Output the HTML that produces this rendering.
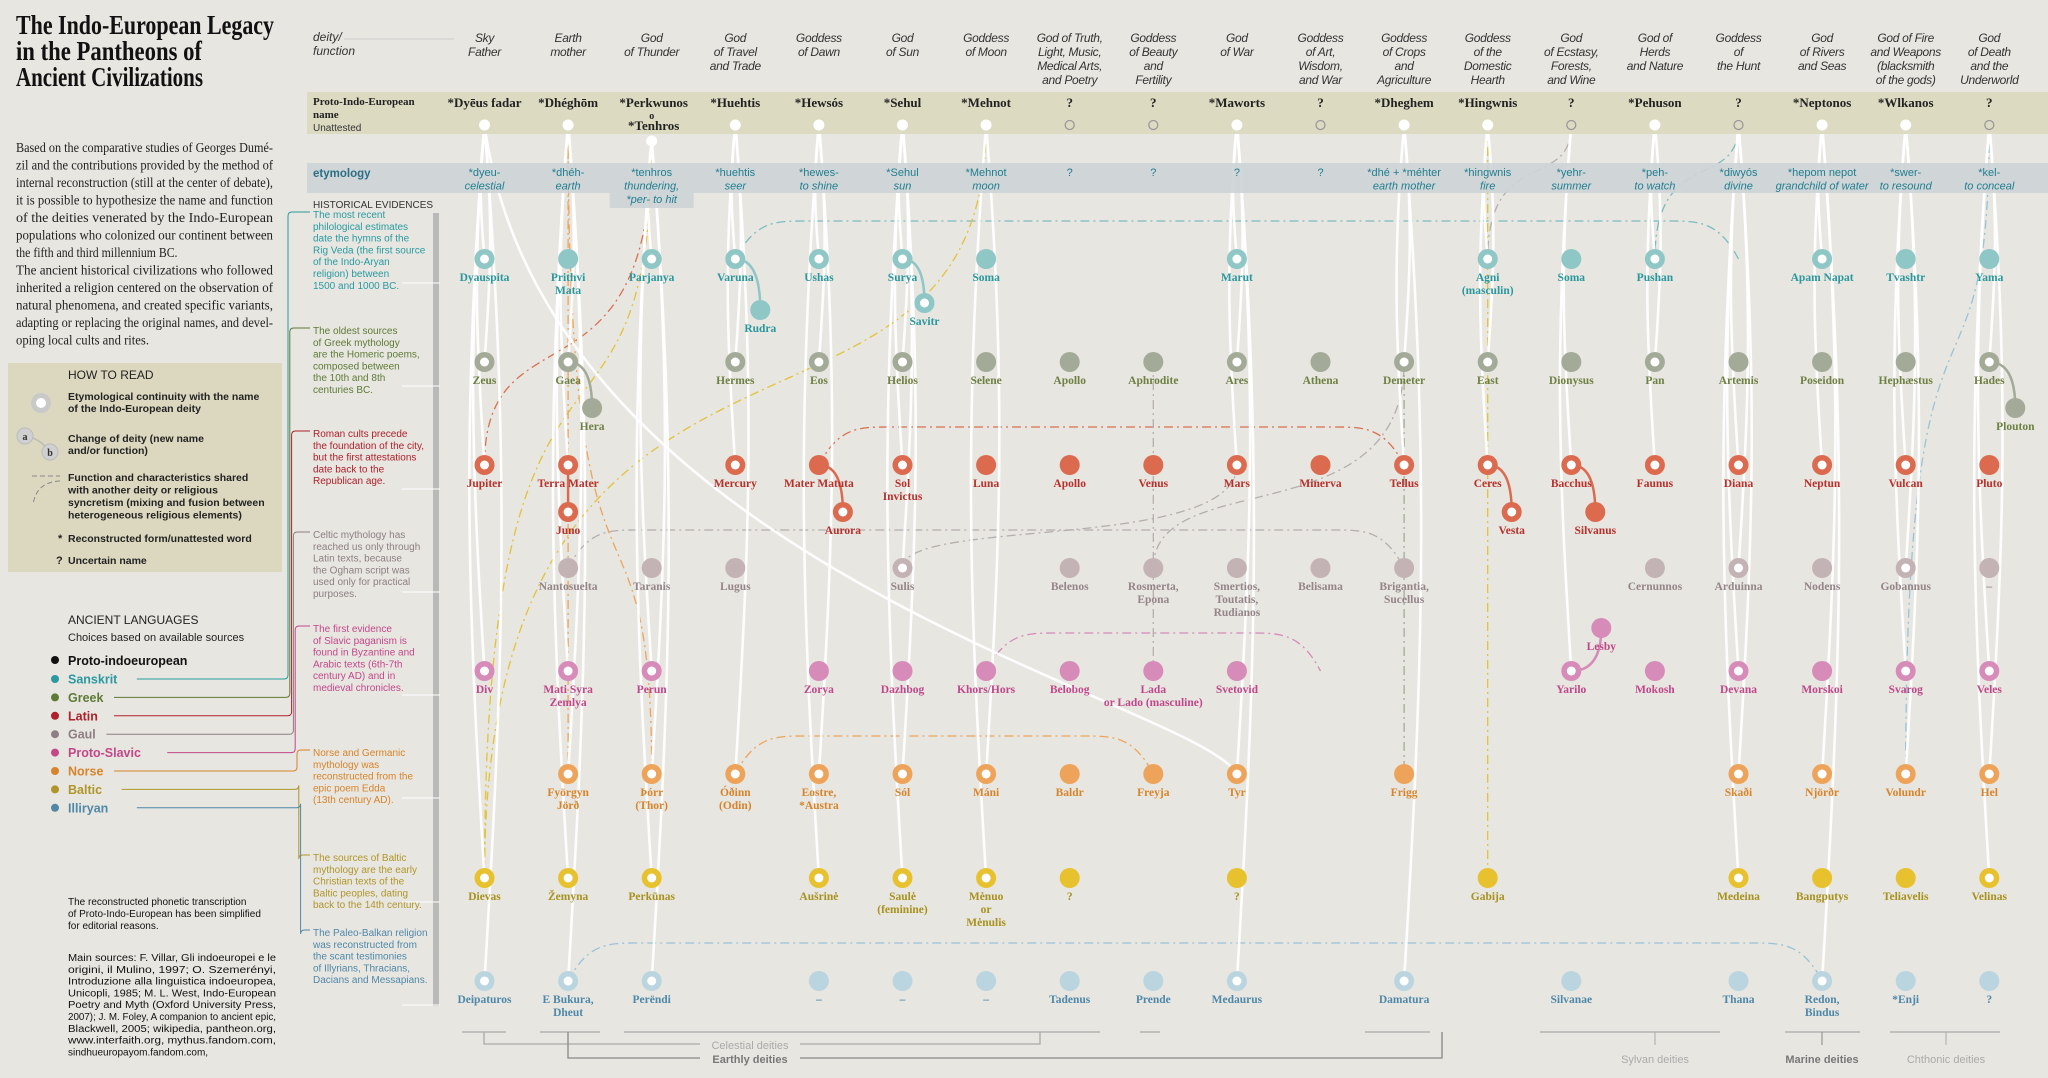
<!DOCTYPE html>
<html><head><meta charset="utf-8"><style>
html,body{margin:0;padding:0;background:#e7e6e1;}
svg{display:block;}
</style></head><body>
<svg id="chart" xmlns="http://www.w3.org/2000/svg" width="2048" height="1078" viewBox="0 0 2048 1078">
<rect x="0" y="0" width="2048" height="1078" fill="#e7e6e1"/>
</svg>
<script>
// ---------- DATA ----------
const headers = [["Sky","Father"],["Earth","mother"],["God","of Thunder"],["God","of Travel","and Trade"],["Goddess","of Dawn"],["God","of Sun"],["Goddess","of Moon"],["God of Truth,","Light, Music,","Medical Arts,","and Poetry"],["Goddess","of Beauty","and","Fertility"],["God","of War"],["Goddess","of Art,","Wisdom,","and War"],["Goddess","of Crops","and","Agriculture"],["Goddess","of the","Domestic","Hearth"],["God","of Ecstasy,","Forests,","and Wine"],["God of","Herds","and Nature"],["Goddess","of","the Hunt"],["God","of Rivers","and Seas"],["God of Fire","and Weapons","(blacksmith","of the gods)"],["God","of Death","and the","Underworld"]];
const pieNames = ["*Dyēus fadar","*Dhéghōm","*Perkwunos","*Huehtis","*Hewsós","*Sehul","*Mehnot","?","?","*Maworts","?","*Dheghem","*Hingwnis","?","*Pehuson","?","*Neptonos","*Wlkanos","?"];
const etymology = [["*dyeu-","celestial"],["*dhéh-","earth"],["*tenhros","thundering,","*per- to hit"],["*huehtis","seer"],["*hewes-","to shine"],["*Sehul","sun"],["*Mehnot","moon"],["?"],["?"],["?"],["?"],["*dhé + *méhter","earth mother"],["*hingwnis","fire"],["*yehr-","summer"],["*peh-","to watch"],["*diwyós","divine"],["*hepom nepot","grandchild of water"],["*swer-","to resound"],["*kel-","to conceal"]];
const sanskrit = ["Dyauspita","Prithvi|Mata","Parjanya","Varuna","Ushas","Surya","Soma","","","Marut","","","Agni|(masculin)","Soma","Pushan","","Apam Napat","Tvashtr","Yama"];
const greek = ["Zeus","Gaea","","Hermes","Eos","Helios","Selene","Apollo","Aphrodite","Ares","Athena","Demeter","East","Dionysus","Pan","Artemis","Poseidon","Hephæstus","Hades"];
const latin = ["Jupiter","Terra Mater","","Mercury","Mater Matuta","Sol|Invictus","Luna","Apollo","Venus","Mars","Minerva","Tellus","Ceres","Bacchus","Faunus","Diana","Neptun","Vulcan","Pluto"];
const gaul = ["","Nantosuelta","Taranis","Lugus","","Sulis","","Belenos","Rosmerta,|Epona","Smertios,|Toutatis,|Rudianos","Belisama","Brigantia,|Sucellus","","","Cernunnos","Arduinna","Nodens","Gobannus","–"];
const slavic = ["Div","Mati Syra|Zemlya","Perun","","Zorya","Dazhbog","Khors/Hors","Belobog","Lada|or Lado (masculine)","Svetovid","","","","Yarilo","Mokosh","Devana","Morskoi","Svarog","Veles"];
const norse = ["","Fyörgyn|Jörð","Þórr|(Thor)","Óðinn|(Odin)","Eostre,|*Austra","Sól","Máni","Baldr","Freyja","Tyr","","Frigg","","","","Skaði","Njörðr","Volundr","Hel"];
const baltic = ["Dievas","Žemyna","Perkūnas","","Aušrinė","Saulė|(feminine)","Mėnuo|or|Mėnulis","?","","?","","","Gabija","","","Medeina","Bangputys","Teliavelis","Velinas"];
const illyrian = ["Deipaturos","E Bukura,|Dheut","Perëndi","","–","–","–","Tadenus","Prende","Medaurus","","Damatura","","Silvanae","","Thana","Redon,|Bindus","*Enji","?"];
const rings = [[0,2,3,4,5,9,12,14,16],[0,1,3,4,5,9,11,12,14,18],[0,1,3,5,9,11,12,13,14,15,16,17],[5,15,17],[0,1,2,13,15,17,18],[1,2,3,4,5,6,9,15,16,17,18],[0,1,2,4,5,6,15,18],[0,1,2,9,11,16]];
const langNames = ["Sanskrit","Greek","Latin","Gaul","Proto-Slavic","Norse","Baltic","Illiryan"];
const extraNames = ["Rudra","Savitr","Hera","Juno","Aurora","Vesta","Silvanus","Plouton","Lesby"];
const extraRow = [0,0,1,2,2,2,2,1,4];
const extraParent = [3,5,1,1,4,12,13,18,13];
const extraRing = [0,1,0,1,1,1,0,0,0];
const dashedLinks = [[2,0,-1,2,2],[-1,2,6,0,6],[-1,1,5,1,5],[3,5,2,9,3],[3,8,1,11,3],[4,6,4,10,4],[0,3,0,15,0],[5,3,5,8,5],[3,1,3,11,3],[2,4,2,11,2],[7,1,7,16,7],[6,12,-1,12,6],[1,11,5,11,1],[-1,15,0,14,0],[-1,18,5,17,7],[-1,13,0,12,3],[1,8,4,8,3],[-1,6,6,0,6],[5,2,-1,1,5]];
const notes = [["The most recent","philological estimates","date the hymns of the","Rig Veda (the first source","of the Indo-Aryan","religion) between","1500 and 1000 BC."],["The oldest sources","of Greek mythology","are the Homeric poems,","composed between","the 10th and 8th","centuries BC."],["Roman cults precede","the foundation of the city,","but the first attestations","date back to the","Republican age."],["Celtic mythology has","reached us only through","Latin texts, because","the Ogham script was","used only for practical","purposes."],["The first evidence","of Slavic paganism is","found in Byzantine and","Arabic texts (6th-7th","century AD) and in","medieval chronicles."],["Norse and Germanic","mythology was","reconstructed from the","epic poem Edda","(13th century AD)."],["The sources of Baltic","mythology are the early","Christian texts of the","Baltic peoples, dating","back to the 14th century."],["The Paleo-Balkan religion","was reconstructed from","the scant testimonies","of Illyrians, Thracians,","Dacians and Messapians."]];

// ---------- LAYOUT / STYLE ----------
const rowsData = [sanskrit, greek, latin, gaul, slavic, norse, baltic, illyrian];
const rowY = [259,362,465,568,671,774,878,981];
const fills = ["#8fc6c6","#a3ab98","#dc6a4f","#c4b3b5","#d68bb8","#eda45a","#e8c22e","#bad5e0"];
const inks = ["#2a979c","#6f8043","#b8302a","#958589","#c0478a","#d8842a","#a8921e","#4f88a8"];
const extraDx = [25,22,24,0,24,24,24,26,30];
const extraDy = [51,44,46,47,47,47,47,46,-43];
const noteY = [218,334,437,538,632,756,861,936];
const X = c => 484.5 + c*83.6;
const PIEY = 125;
const svg = document.getElementById('chart');
const NS = 'http://www.w3.org/2000/svg';

function mk(tag, attrs, name){
  const el = document.createElementNS(NS, tag);
  for (const k in attrs) el.setAttribute(k, attrs[k]);
  
  
  svg.appendChild(el);
  return el;
}
function txt(x, y, s, style, name){
  const el = mk('text', {x:x, y:y}, name);
  el.setAttribute('style', style);
  el.textContent = s;
  return el;
}
const SANS = "font-family:'Liberation Sans',sans-serif;";
const SERIF = "font-family:'Liberation Serif',serif;";

// Title
const tl = [["The Indo-European Legacy",34,258],["in the Pantheons of",60,186],["Ancient Civilizations",86,187]];
tl.forEach((t,i)=>{ const e=txt(16,t[1],t[0],SERIF+"font-size:27px;font-weight:bold;fill:#111;",'title-line'); e.setAttribute('textLength',t[2]); e.setAttribute('lengthAdjust','spacingAndGlyphs'); });

// Intro paragraph
const para = [["Based on the comparative studies of Georges Dumé-",1],["zil and the contributions provided by the method of",1],["internal reconstruction (still at the center of debate),",1],["it is possible to hypothesize the name and function",1],["of the deities venerated by the Indo-European",1],["populations who colonized our continent between",1],["the fifth and third millennium BC.",0],["The ancient historical civilizations  who followed",1],["inherited a religion centered on the observation of",1],["natural phenomena, and created specific variants,",1],["adapting or replacing the original names, and devel-",1],["oping local cults and rites.",0]];
para.forEach((p,i)=>{ const e=txt(16,152+i*17.5,p[0],SERIF+"font-size:14px;fill:#222;",'intro-text-line'); e.setAttribute('lengthAdjust','spacingAndGlyphs'); e.setAttribute('textLength', p[1]?257:(p[0].length*4.75)); });

// How to read box
mk('rect',{x:8,y:363,width:274,height:209,fill:"#dcd8bf"},'how-to-read-box');
txt(68,379,"HOW TO READ",SANS+"font-size:12px;fill:#222;",'how-to-read-title');
mk('circle',{cx:41,cy:403,r:10,fill:"#c9c9c9"},'legend-ring-icon');
mk('circle',{cx:41,cy:403,r:5,fill:"#fff"},'legend-ring-core');
txt(68,400,"Etymological continuity with the name",SANS+"font-size:10.5px;font-weight:bold;fill:#222;",'legend-text');
txt(68,412,"of the Indo-European deity",SANS+"font-size:10.5px;font-weight:bold;fill:#222;",'legend-text');
mk('path',{d:"M25,436 Q40,438 50,452",stroke:"#bbb",fill:"none","stroke-width":1.5},'legend-change-line');
mk('circle',{cx:25,cy:436,r:8,fill:"#d0d0d0",stroke:"#bbb"},'legend-a-circle');
mk('circle',{cx:50,cy:452,r:8,fill:"#d0d0d0",stroke:"#bbb"},'legend-b-circle');
txt(25,440,"a",SERIF+"font-size:10px;font-weight:bold;text-anchor:middle;fill:#333;",'legend-a');
txt(50,456,"b",SERIF+"font-size:10px;font-weight:bold;text-anchor:middle;fill:#333;",'legend-b');
txt(68,442,"Change of deity (new name",SANS+"font-size:10.5px;font-weight:bold;fill:#222;",'legend-text');
txt(68,454,"and/or function)",SANS+"font-size:10.5px;font-weight:bold;fill:#222;",'legend-text');
mk('path',{d:"M32,476 H60 M60,481 Q36,482 33,505",stroke:"#888",fill:"none","stroke-dasharray":"5 3"},'legend-dashed-line');
["Function and characteristics shared","with another deity or religious","syncretism (mixing and fusion between","heterogeneous religious elements)"].forEach((s,i)=>txt(68,481+i*12.5,s,SANS+"font-size:10.5px;font-weight:bold;fill:#222;",'legend-text'));
txt(58,542,"*",SANS+"font-size:11px;font-weight:bold;fill:#222;",'legend-asterisk');
txt(68,542,"Reconstructed form/unattested word",SANS+"font-size:10.5px;font-weight:bold;fill:#222;",'legend-text');
txt(56,564,"?",SANS+"font-size:11px;font-weight:bold;fill:#222;",'legend-question');
txt(68,564,"Uncertain name",SANS+"font-size:10.5px;font-weight:bold;fill:#222;",'legend-text');

// Ancient languages
txt(68,624,"ANCIENT LANGUAGES",SANS+"font-size:12px;fill:#222;",'languages-title');
txt(68,641,"Choices based on available sources",SANS+"font-size:11px;fill:#222;",'languages-subtitle');
mk('circle',{cx:55,cy:660,r:4,fill:"#111"},'lang-dot-pie');
txt(68,665,"Proto-indoeuropean",SANS+"font-size:12.5px;font-weight:bold;fill:#111;",'lang-proto-indoeuropean');
const langInk = ["#2a9aa0","#5f7a35","#b0202a","#8d7f83","#c4478a","#d8842a","#b0962a","#4f88a8"];
langNames.forEach((n,i)=>{
  const y = 679 + i*18.4;
  mk('circle',{cx:55,cy:y,r:4,fill:langInk[i]},'lang-dot');
  txt(68,y+4.5,n,SANS+"font-size:12.5px;font-weight:bold;fill:"+langInk[i]+";",'lang-label');
  const endX = 68 + n.length*7.6 + 8;
  const vx = 288 + i*1.8;
  mk('path',{d:`M${endX},${y} H${vx-4} Q${vx},${y} ${vx},${y-4} V${noteY[i]-2} Q${vx},${noteY[i]-6} ${vx+4},${noteY[i]-6} H${310}`,stroke:langInk[i],fill:"none","stroke-width":1},'lang-connector');
});

// Bottom notes
["The reconstructed phonetic transcription","of Proto-Indo-European has been simplified","for editorial reasons."].forEach((s,i)=>txt(68,905+i*12,s,SANS+"font-size:10px;fill:#111;",'transcription-note'));
const src = [["Main sources: F. Villar, Gli indoeuropei e le",1],["origini, il Mulino, 1997; O. Szemerényi,",1],["Introduzione alla linguistica indoeuropea,",1],["Unicopli, 1985; M. L. West, Indo-European",1],["Poetry and Myth (Oxford University Press,",1],["2007); J. M. Foley, A companion to ancient epic,",1],["Blackwell, 2005; wikipedia, pantheon.org,",1],["www.interfaith.org, mythus.fandom.com,",1],["sindhueuropayom.fandom.com,",0]];
src.forEach((s,i)=>{ const e=txt(68,961+i*11.8,s[0],SANS+"font-size:10px;fill:#111;",'sources-line'); if(s[1]){e.setAttribute('textLength',208); e.setAttribute('lengthAdjust','spacingAndGlyphs');} });

// Historical notes
mk('rect',{x:433,y:213,width:6,height:793,fill:"#b9b9b9"},'timeline-bar');
notes.forEach((lines,r)=>{
  lines.forEach((s,i)=>txt(313,noteY[r]+i*11.8,s,SANS+"font-size:10px;fill:"+langInk[r]+";",'historical-note-line'));
  mk('line',{x1:402,y1:rowY[r]+24,x2:440,y2:rowY[r]+24,stroke:"#fff","stroke-width":1},'note-arrow');
});

// Dashed links (below everything)
const dashCols = ["#7cbcc0","#a3ab98","#d9704f","#b6adaf","#d68bb8","#eda45a","#e3c23a","#98c3d8"];
function nodePos(r,c){ return r<0 ? [X(c), c==2?141:PIEY] : [X(c), rowY[r]]; }
dashedLinks.forEach(l=>{
  const [x0,y0]=nodePos(l[0],l[1]); const [x1,y1]=nodePos(l[2],l[3]);
  let d;
  if (Math.abs(y1-y0) < 5) {
    const up = 38;
    d = `M${x0},${y0} C${x0+20},${y0-up} ${x0+40},${y0-up} ${x0+70},${y0-up} L${x1-70},${y0-up} C${x1-40},${y0-up} ${x1-20},${y0-up} ${x1},${y1}`;
  } else {
    d = `M${x0},${y0} C${x0},${(y0+y1)/2} ${x1},${y0+(y1-y0)*0.15} ${x1},${y1}`;
  }
  mk('path',{d:d,stroke:dashCols[l[4]],fill:"none","stroke-width":1.3,"stroke-dasharray":"9 4 2 4"},'syncretism-dashed-line');
});

// White continuity lines
rowsData.forEach((row,r)=>{
  rings[r].forEach((c,k)=>{
    const x=X(c), y0=(c==2?141:PIEY), y1=rowY[r];
    const dx = ((r%2)?1:-1)*(4+r*2);
    mk('path',{d:`M${x},${y0} C${x+dx*1.5},${y0+(y1-y0)*0.4} ${x+dx},${y1-(y1-y0)*0.35} ${x},${y1}`,stroke:"#ffffff","stroke-width":2.6,fill:"none",opacity:0.92},'continuity-line');
  });
});
mk('path',{d:`M${X(0)},${PIEY} C${X(0)+60},${rowY[3]} ${X(9)-40},${rowY[4]+30} ${X(9)},${rowY[5]}`,stroke:"#fff","stroke-width":2.6,fill:"none",opacity:0.92},'continuity-line-tyr');

// Bands over lines
mk('rect',{x:307,y:92,width:1741,height:42,fill:"#dcd8bf",opacity:0.93},'pie-name-band');
mk('rect',{x:307,y:163,width:1741,height:30,fill:"#cdd3d6",opacity:0.9},'etymology-band');
mk('rect',{x:X(2)-42,y:193,width:84,height:15,fill:"#cdd3d6",opacity:0.9},'etymology-band-extension');

// Header labels
txt(313,41,"deity/",SANS+"font-size:12px;font-style:italic;fill:#333;",'deity-function-label');
txt(313,55,"function",SANS+"font-size:12px;font-style:italic;fill:#333;",'deity-function-label');
mk('line',{x1:344,y1:39,x2:454,y2:39,stroke:"#ccc"},'header-rule');
txt(313,105,"Proto-Indo-European",SERIF+"font-size:11px;font-weight:bold;fill:#222;",'pie-row-label');
txt(313,118,"name",SERIF+"font-size:11px;font-weight:bold;fill:#222;",'pie-row-label');
txt(313,131,"Unattested",SANS+"font-size:10px;fill:#333;",'pie-row-sublabel');
txt(313,177,"etymology",SANS+"font-size:11.5px;font-weight:bold;fill:#2b6f86;",'etymology-row-label');
txt(313,208,"HISTORICAL EVIDENCES",SANS+"font-size:10px;fill:#333;",'historical-evidences-label');

headers.forEach((h,c)=>{
  h.forEach((s,i)=>txt(X(c),42+i*14,s,SANS+"font-size:12px;font-style:italic;fill:#333;text-anchor:middle;letter-spacing:-0.3px;",'column-header'));
});
pieNames.forEach((n,c)=>{
  txt(X(c)+(c==2?2:0),107,n,SERIF+"font-size:13px;font-weight:bold;fill:#222;text-anchor:middle;",'pie-name');
});
txt(X(2),119,"o",SERIF+"font-size:10px;font-weight:bold;fill:#222;text-anchor:middle;",'pie-name-or');
txt(X(2)+2,130,"*Tenhros",SERIF+"font-size:13px;font-weight:bold;fill:#222;text-anchor:middle;",'pie-name-alt');
etymology.forEach((e,c)=>{
  e.forEach((s,i)=>txt(X(c),176+i*13.5,s,SANS+"font-size:11px;fill:#1f7e90;text-anchor:middle;"+(i>0?"font-style:italic;":""),'etymology-text'));
});

// PIE dots
pieNames.forEach((n,c)=>{
  const y = c==2?141:PIEY;
  if(n==="?") mk('circle',{cx:X(c),cy:y,r:4.5,fill:"none",stroke:"#999","stroke-width":1.3},'pie-uncertain-dot');
  else mk('circle',{cx:X(c),cy:y,r:5.5,fill:"#fff"},'pie-dot');
});

// Extras connectors
extraNames.forEach((n,i)=>{
  const r=extraRow[i], c=extraParent[i];
  const x0=X(c), y0=rowY[r], x1=X(c)+extraDx[i], y1=rowY[r]+extraDy[i];
  mk('path',{d:`M${x0},${y0} Q${x1},${y0} ${x1},${y1}`,stroke:fills[r],fill:"none","stroke-width":2.5},'change-of-deity-link');
});

// Deity nodes
function node(x,y,r,ring,name){
  mk('circle',{cx:x,cy:y,r:10,fill:fills[r]},name+'-circle');
  if(ring) mk('circle',{cx:x,cy:y,r:4.5,fill:"#fff"},name+'-ring-core');
}
function label(x,y,s,r,name){
  s.split('|').forEach((p,i)=>txt(x,y+22+i*13,p,SERIF+"font-size:11.5px;font-weight:bold;fill:"+inks[r]+";text-anchor:middle;",name+'-label'));
}
rowsData.forEach((row,r)=>{
  row.forEach((n,c)=>{
    if(!n) return;
    const ring = rings[r].indexOf(c)>=0;
    node(X(c),rowY[r],r,ring,'deity');
    label(X(c),rowY[r],n,r,'deity');
  });
});
extraNames.forEach((n,i)=>{
  const r=extraRow[i], x=X(extraParent[i])+extraDx[i], y=rowY[r]+extraDy[i];
  node(x,y,r,extraRing[i],'deity-variant');
  label(x,y,n,r,'deity-variant');
});

// Bottom brackets
const bl = [[462,506],[540,600],[624,1100],[1140,1160],[1365,1430],[1540,1720],[1785,1860],[1890,2000]];
bl.forEach(b=>mk('line',{x1:b[0],y1:1032,x2:b[1],y2:1032,stroke:"#aaa","stroke-width":1.3},'group-bracket'));
mk('path',{d:"M484,1032 V1044 H700 M800,1044 H1040 V1032",stroke:"#aaa",fill:"none","stroke-width":1.3},'celestial-bracket');
mk('path',{d:"M568,1032 V1058 H700 M800,1058 H1442 V1032",stroke:"#888",fill:"none","stroke-width":1.3},'earthly-bracket');
txt(750,1049,"Celestial deities",SANS+"font-size:11px;fill:#aaa;text-anchor:middle;",'celestial-deities-label');
txt(750,1063,"Earthly deities",SANS+"font-size:11px;font-weight:bold;fill:#777;text-anchor:middle;",'earthly-deities-label');
mk('path',{d:"M1655,1032 V1045",stroke:"#aaa",fill:"none"},'sylvan-tick');
mk('path',{d:"M1822,1032 V1045",stroke:"#888",fill:"none"},'marine-tick');
mk('path',{d:"M1946,1032 V1045",stroke:"#aaa",fill:"none"},'chthonic-tick');
txt(1655,1063,"Sylvan deities",SANS+"font-size:11px;fill:#aaa;text-anchor:middle;",'sylvan-deities-label');
txt(1822,1063,"Marine deities",SANS+"font-size:11px;font-weight:bold;fill:#777;text-anchor:middle;",'marine-deities-label');
txt(1946,1063,"Chthonic deities",SANS+"font-size:11px;fill:#aaa;text-anchor:middle;",'chthonic-deities-label');
</script>
</body></html>
